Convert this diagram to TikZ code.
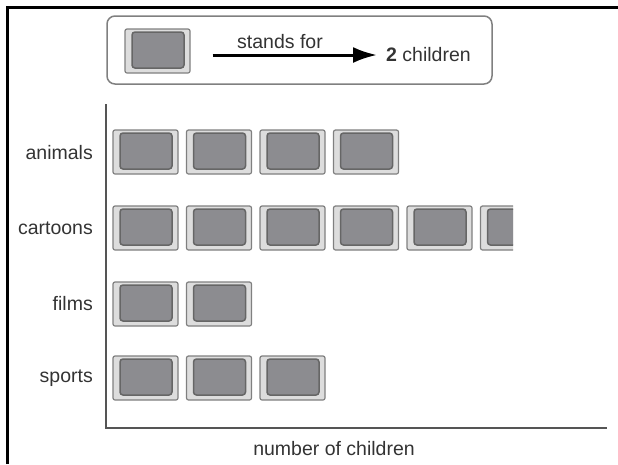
\documentclass[tikz,border=0pt]{standalone}
\usepackage{fontspec}
\setmainfont{Liberation Sans}
\usetikzlibrary{arrows.meta}

\definecolor{iconback}{HTML}{DDDDDD}
\definecolor{iconfill}{HTML}{8C8C90}
\definecolor{axisgray}{HTML}{555555}
\definecolor{textgray}{HTML}{333333}

\tikzset{
  icon/.style={rectangle, draw=gray, fill=iconback, line width=1.2pt, rounded corners=2pt,
    minimum width=65pt, minimum height=44pt, inner sep=0pt,
    path picture={\draw[black!60, fill=iconfill, line width=1.5pt, rounded corners=3pt]
      ([xshift=7pt, yshift=-3pt]path picture bounding box.north west) rectangle
      ([xshift=-6pt, yshift=5pt]path picture bounding box.south east);}},
  rowlabel/.style={anchor=east, inner sep=0pt, text=textgray, font=\fontsize{19.5}{22}\selectfont}
}

\begin{document}
\begin{tikzpicture}[x=1pt, y=-1pt]
    \useasboundingbox (0,0) rectangle (618,464);
    % 枠
    \draw[line width=3pt] (7.5,464) -- (7.5,7.5) -- (618,7.5);

    % 凡例
    \draw[gray, line width=1.5pt, rounded corners=8pt] (107,16) rectangle (492,84);
    \node[icon] (keyicon) at (157.5,51) {};
    \node[anchor=west, inner sep=3pt, text=textgray, font=\fontsize{19.5}{22}\selectfont] (two) at (383,55) {\textbf{2} children};
    \node[text=textgray, font=\fontsize{19.5}{22}\selectfont] (stands) at (280,42) {stands for};
    \draw[line width=3pt, -{Latex[length=24pt, width=16pt]}, shorten <=22pt, shorten >=6pt] (keyicon.east |- two.west) -- (two.west);

    % 軸
    \coordinate (ytop) at (106,104);
    \coordinate (origin) at (106,428);
    \coordinate (xend) at (607,428);
    \draw[axisgray, line width=2pt] (ytop) -- (origin) -- (xend);
    \node[text=textgray, font=\fontsize{19.5}{22}\selectfont] (xlabel) at (334,449) {number of children};

    % ラベル
    \node[rowlabel] (animals) at (93,153) {animals};
    \node[rowlabel] (cartoons) at (93,228) {cartoons};
    \node[rowlabel] (films) at (93,304) {films};
    \node[rowlabel] (sports) at (93,378) {sports};

    % アイコン
    \node[icon] (animals1) at (145.5,152) {};
    \node[icon] (animals2) at (219,152) {};
    \node[icon] (animals3) at (292.5,152) {};
    \node[icon] (animals4) at (366,152) {};

    \node[icon] (cartoons1) at (145.5,228) {};
    \node[icon] (cartoons2) at (219,228) {};
    \node[icon] (cartoons3) at (292.5,228) {};
    \node[icon] (cartoons4) at (366,228) {};
    \node[icon] (cartoons5) at (439.5,228) {};
    \begin{scope}
      \clip (478,200) rectangle (513,260);
      \node[icon] (cartoons6) at (513,228) {};
    \end{scope}

    \node[icon] (films1) at (145.5,304) {};
    \node[icon] (films2) at (219,304) {};

    \node[icon] (sports1) at (145.5,378) {};
    \node[icon] (sports2) at (219,378) {};
    \node[icon] (sports3) at (292.5,378) {};
\end{tikzpicture}
\end{document}
